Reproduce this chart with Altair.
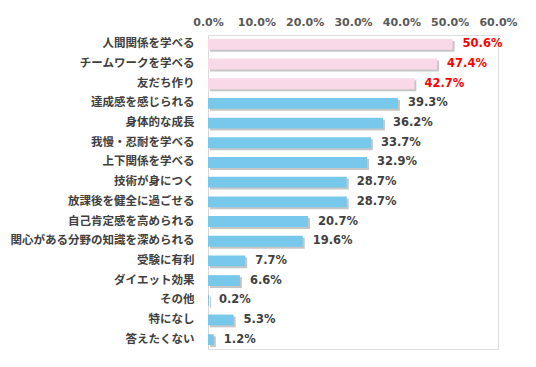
import altair as alt
import pandas as pd

categories = ["人間関係を学べる", "チームワークを学べる", "友だち作り", "達成感を感じられる",
              "身体的な成長", "我慢・忍耐を学べる", "上下関係を学べる", "技術が身につく",
              "放課後を健全に過ごせる", "自己肯定感を高められる", "関心がある分野の知識を深められる",
              "受験に有利", "ダイエット効果", "その他", "特になし", "答えたくない"]
values = [50.6, 47.4, 42.7, 39.3, 36.2, 33.7, 32.9, 28.7, 28.7, 20.7, 19.6, 7.7, 6.6, 0.2, 5.3, 1.2]
highlight = [True, True, True] + [False] * 13

df = pd.DataFrame({"cat": categories, "val": values})
df["barcolor"] = ["#F9D9E8" if h else "#77C8EA" for h in highlight]
df["textcolor"] = ["#FF0000" if h else "#404040" for h in highlight]
df["label"] = df["val"].map(lambda v: f"{v:.1f}%")

jp = "Noto Sans CJK JP"
num = "DejaVu Sans"
y = alt.Y("cat:N", sort=categories, title=None,
          scale=alt.Scale(paddingInner=0.45, paddingOuter=0.2),
          axis=alt.Axis(ticks=False, labelPadding=14, labelFontSize=11.5, labelFont=jp,
                        labelFontWeight="bold", labelColor="#404040", labelLimit=400,
                        domainColor="#d9d9d9", domainWidth=1))
x = alt.X("val:Q", title=None, scale=alt.Scale(domain=[0, 60], nice=False),
          axis=alt.Axis(orient="top", values=[0, 10, 20, 30, 40, 50, 60], labelOverlap=False,
                        labelFlush=False,
                        labelExpr="format(datum.value, '.1f') + '%'", ticks=False, domain=False,
                        grid=False, labelFontSize=11, labelFont=num, labelFontWeight="bold",
                        labelColor="#595959", labelPadding=8))

base = alt.Chart(df)
shadow = base.mark_bar(color="#808080", opacity=0.45, xOffset=2, yOffset=2).encode(x=x, y=y)
bars = base.mark_bar().encode(x=x, y=y, color=alt.Color("barcolor:N", scale=None))
text = base.mark_text(align="left", dx=10, fontSize=11.5, fontWeight="bold", font=num).encode(
    x=x, y=y, text="label:N", color=alt.Color("textcolor:N", scale=None))

chart = alt.layer(shadow, bars, text).properties(
    width=290, height=314,
    autosize=alt.AutoSizeParams(type="none"),
    padding={"left": 200, "top": 27, "right": 30, "bottom": 10}
).configure_view(stroke=None).configure(background="white")

chart.save("out.html", embed_options={"renderer": "svg", "actions": False})
